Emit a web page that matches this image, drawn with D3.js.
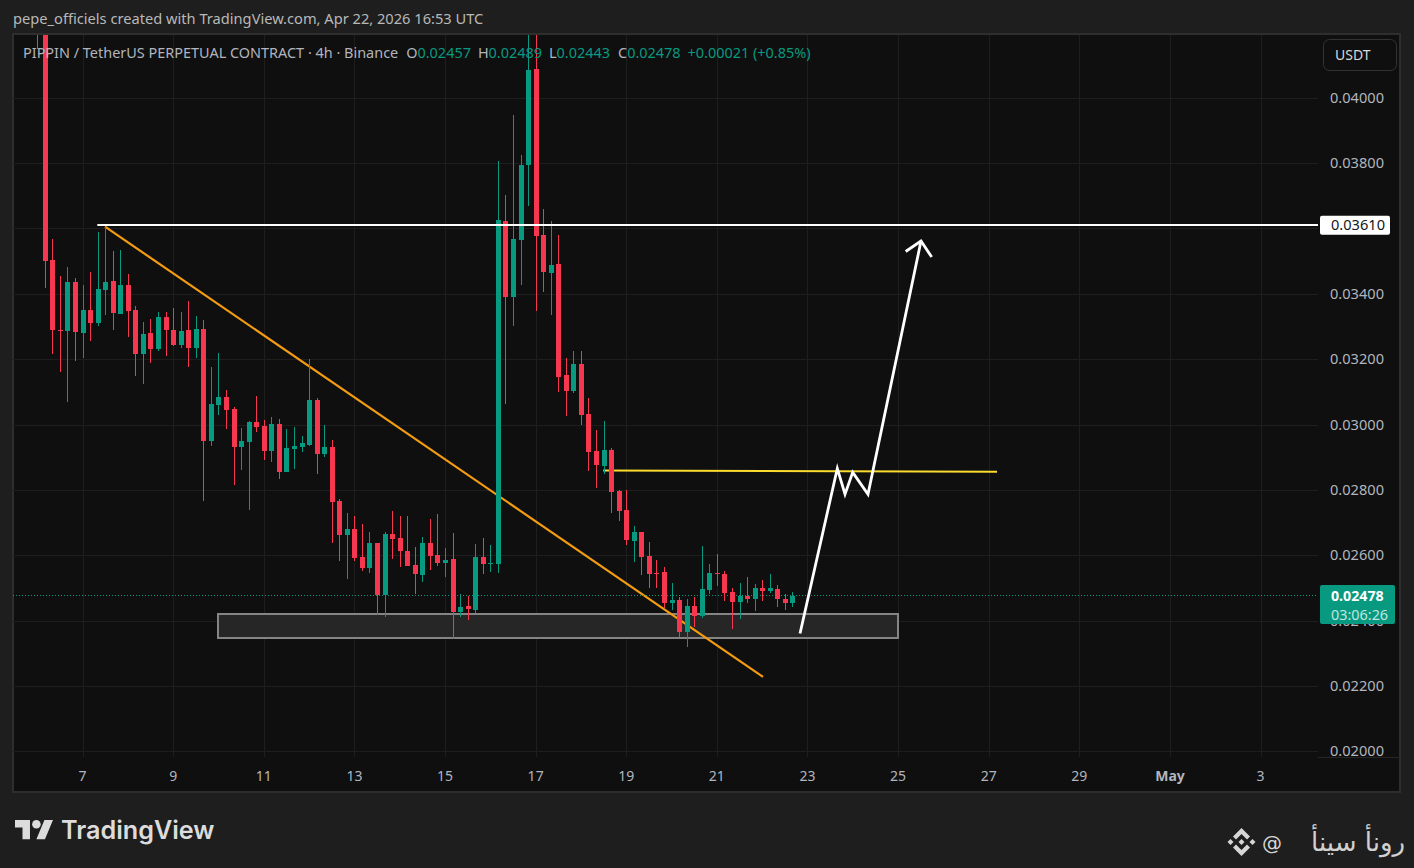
<!DOCTYPE html>
<html>
<head>
<meta charset="utf-8">
<script src="https://cdn.jsdelivr.net/npm/d3@7"></script>
<style>
    html, body { margin: 0; padding: 0; background: #1e1e1e; overflow: hidden; }
    svg { display: block; font-family: "Noto Sans", sans-serif; }
    .domain { display: none; }
</style>
</head>
<body>
<div id="chart"></div>
<script>
// prices are written in 1/100000 USDT, 4h bars, the last bar opens Apr 22 16:00
const opens = [
    4330, 4240, 3505, 3291, 3287, 3438, 3284, 3353, 3312, 3414,
    3441, 3339, 3429, 3352, 3217, 3281, 3233, 3330, 3291, 3245,
    3291, 3236, 3294, 2951, 3062, 3086, 3049, 2932, 2948, 3010,
    2997, 2920, 3004, 2856, 2926, 2932, 2938, 3077, 2911, 2932,
    2767, 2664, 2682, 2596, 2562, 2639, 2479, 2667, 2654, 2615,
    2571, 2540, 2639, 2603, 2577, 2590, 2427, 2446, 2434, 2596,
    2574, 2574, 3624, 3391, 3566, 3795, 4089, 3582, 3466, 3493,
    3153, 3104, 3187, 3034, 2920, 2874, 2923, 2798, 2740, 2645,
    2673, 2599, 2547, 2550, 2455, 2464, 2366, 2446, 2415, 2495,
    2547, 2543, 2489, 2458, 2476, 2467, 2501, 2492, 2498, 2467, 2457
]
const closes = [
    4200, 3503, 3291, 3287, 3438, 3284, 3353, 3312, 3417, 3438,
    3342, 3429, 3349, 3217, 3278, 3233, 3330, 3291, 3245, 3287,
    3236, 3294, 2951, 3065, 3086, 3046, 2932, 2951, 3010, 2994,
    2920, 3004, 2856, 2929, 2935, 2944, 3077, 2911, 2932, 2764,
    2664, 2682, 2593, 2562, 2639, 2479, 2667, 2651, 2615, 2568,
    2543, 2639, 2599, 2577, 2587, 2427, 2443, 2437, 2596, 2574,
    2577, 3627, 3391, 3569, 3795, 4086, 3579, 3469, 3490, 3147,
    3104, 3187, 3031, 2917, 2877, 2923, 2795, 2737, 2648, 2673,
    2596, 2543, 2543, 2455, 2464, 2366, 2446, 2415, 2498, 2547,
    2543, 2485, 2458, 2476, 2467, 2501, 2492, 2501, 2467, 2455, 2478
]
const highs = [
    4350, 4300, 3569, 3456, 3484, 3450, 3429, 3469, 3591, 3606,
    3533, 3536, 3463, 3364, 3315, 3324, 3345, 3345, 3358, 3345,
    3379, 3333, 3321, 3178, 3220, 3107, 3055, 2990, 3013, 3089,
    3016, 3025, 3019, 2987, 2994, 2966, 3202, 3083, 3000, 2954,
    2774, 2731, 2722, 2697, 2673, 2639, 2673, 2737, 2722, 2722,
    2627, 2657, 2712, 2728, 2624, 2670, 2482, 2476, 2636, 2654,
    2633, 3809, 3704, 3949, 3827, 4300, 4250, 3661, 3624, 3582,
    3205, 3226, 3226, 3083, 2984, 3013, 2929, 2801, 2801, 2691,
    2673, 2642, 2587, 2565, 2516, 2473, 2467, 2473, 2630, 2574,
    2606, 2553, 2501, 2516, 2534, 2513, 2525, 2543, 2510, 2482, 2489
]
const lows = [
    4150, 3418, 3217, 3162, 3069, 3196, 3205, 3257, 3303, 3336,
    3291, 3339, 3269, 3150, 3126, 3190, 3226, 3211, 3242, 3236,
    3178, 3205, 2767, 2935, 3031, 2987, 2816, 2862, 2740, 2978,
    2893, 2886, 2835, 2856, 2865, 2917, 2935, 2850, 2902, 2639,
    2584, 2528, 2584, 2553, 2547, 2418, 2412, 2590, 2565, 2568,
    2482, 2519, 2556, 2568, 2534, 2345, 2412, 2403, 2424, 2543,
    2550, 2547, 3065, 3303, 3429, 3670, 3349, 3408, 3336, 3101,
    3027, 3098, 3000, 2859, 2807, 2850, 2731, 2706, 2633, 2581,
    2540, 2501, 2501, 2440, 2434, 2351, 2321, 2382, 2409, 2482,
    2507, 2461, 2376, 2406, 2455, 2431, 2461, 2485, 2443, 2434, 2443
]

const priceTicks = [0.04, 0.038, 0.036, 0.034, 0.032, 0.03, 0.028, 0.026, 0.024, 0.022, 0.02]
const dayTicks = [7, 9, 11, 13, 15, 17, 19, 21, 23, 25, 27, 29, 31, 33]
const dayLabels = ["7", "9", "11", "13", "15", "17", "19", "21", "23", "25", "27", "29", "May", "3"]

// drawings, [day of April, price]
const resistanceLine = [[7.315, 3610], [36, 3610]]
const trendLine = [[7.485, 3607], [22.007, 2229]]
const yellowLine = [[18.482, 2861], [27.171, 2857]]
const projection = [[22.824, 2362], [23.647, 2867], [23.817, 2788], [23.987, 2855], [24.324, 2788], [25.494, 3563]]
const arrowHead = [[25.156, 3531], [25.494, 3563], [25.73, 3514]]
const zoneBox = [[9.979, 2422], [24.997, 2348]]

const lastPrice = 0.02478
const levelLabel = "0.03610"
const countdown = "03:06:26"

const legendParts = [
    ["PIPPIN / TetherUS PERPETUAL CONTRACT · 4h · Binance", "#b2b5be", 0],
    ["O", "#b2b5be", 8],
    ["0.02457", "#089981", 0],
    ["H", "#b2b5be", 7],
    ["0.02489", "#089981", 0],
    ["L", "#b2b5be", 7],
    ["0.02443", "#089981", 0],
    ["C", "#b2b5be", 8],
    ["0.02478", "#089981", 0],
    ["+0.00021 (+0.85%)", "#089981", 7]
]

const w = 1414
const h = 868
const paneLeft = 13
const paneRight = 1318
const paneTop = 35
const paneBottom = 757
const axisRight = 1400
const frameBottom = 792
const green = "#089981"
const red = "#f7374f"

const xScale = d3.scaleLinear().domain([7, 33]).range([83.03, 1261.1])
const yScale = d3.scaleLinear().domain([0.02, 0.04]).range([751.7, 98.3])

const barDay = (i) => 22 + 16 / 24 - (100 - i) / 6
const toPrice = (v) => v / 100000
const px = (d) => xScale(d[0])
const py = (d) => yScale(toPrice(d[1]))

const svg = d3.select("#chart").append("svg")
    .attr("width", w)
    .attr("height", h)

svg.append("defs").append("clipPath").attr("id", "pane")
    .append("rect")
    .attr("x", paneLeft)
    .attr("y", paneTop)
    .attr("width", paneRight - paneLeft)
    .attr("height", paneBottom - paneTop)

// chart frame
svg.append("rect")
    .attr("x", paneLeft)
    .attr("y", 34)
    .attr("width", axisRight - paneLeft)
    .attr("height", frameBottom - 34)
    .attr("fill", "#0f0f0f")
    .attr("stroke", "#2e2e2e")
    .attr("stroke-width", 2)

svg.append("text")
    .attr("x", 13)
    .attr("y", 24)
    .attr("fill", "#b8b8b8")
    .attr("font-size", 14.65)
    .text("pepe_officiels created with TradingView.com, Apr 22, 2026 16:53 UTC")

// grid
const grid = svg.append("g").attr("shape-rendering", "crispEdges").attr("stroke", "#1e1e1e")
grid.selectAll(".vgrid")
    .data(dayTicks)
    .enter()
    .append("line")
    .attr("class", "vgrid")
    .attr("x1", (d) => Math.floor(xScale(d)) + 0.5)
    .attr("x2", (d) => Math.floor(xScale(d)) + 0.5)
    .attr("y1", paneTop)
    .attr("y2", paneBottom)
grid.selectAll(".hgrid")
    .data(priceTicks)
    .enter()
    .append("line")
    .attr("class", "hgrid")
    .attr("x1", paneLeft)
    .attr("x2", paneRight)
    .attr("y1", (d) => Math.floor(yScale(d)) + 0.5)
    .attr("y2", (d) => Math.floor(yScale(d)) + 0.5)
svg.append("line")
    .attr("x1", paneRight)
    .attr("x2", axisRight)
    .attr("y1", paneBottom + 0.5)
    .attr("y2", paneBottom + 0.5)
    .attr("stroke", "#262626")

const pane = svg.append("g").attr("clip-path", "url(#pane)")

// box and lines that sit under the candles
pane.append("rect")
    .attr("x", xScale(zoneBox[0][0]))
    .attr("y", py(zoneBox[0]))
    .attr("width", xScale(zoneBox[1][0]) - xScale(zoneBox[0][0]))
    .attr("height", py(zoneBox[1]) - py(zoneBox[0]))
    .attr("fill", "#262626")
    .attr("stroke", "#858585")
    .attr("stroke-width", 2)
    .attr("shape-rendering", "crispEdges")

const line = d3.line().x(px).y(py)

pane.append("path")
    .attr("d", line(trendLine))
    .attr("fill", "none")
    .attr("stroke", "#f39c12")
    .attr("stroke-width", 2.2)

pane.append("path")
    .attr("d", line(yellowLine))
    .attr("fill", "none")
    .attr("stroke", "#fbdc2e")
    .attr("stroke-width", 2)

// last price dots
pane.append("line")
    .attr("x1", paneLeft)
    .attr("x2", paneRight)
    .attr("y1", Math.floor(yScale(lastPrice)) + 0.5)
    .attr("y2", Math.floor(yScale(lastPrice)) + 0.5)
    .attr("stroke", green)
    .attr("stroke-dasharray", "1 2")

// candles
const candles = pane.selectAll(".candle")
    .data(opens)
    .enter()
    .append("g")
    .attr("class", "candle")
    .attr("fill", (d, i) => closes[i] >= opens[i] ? green : red)
    .attr("stroke", (d, i) => closes[i] >= opens[i] ? green : red)
    .attr("shape-rendering", "crispEdges")

candles.append("line")
    .attr("x1", (d, i) => Math.floor(xScale(barDay(i))) + 0.5)
    .attr("x2", (d, i) => Math.floor(xScale(barDay(i))) + 0.5)
    .attr("y1", (d, i) => yScale(toPrice(highs[i])))
    .attr("y2", (d, i) => yScale(toPrice(lows[i])))

candles.append("rect")
    .attr("stroke", "none")
    .attr("x", (d, i) => Math.floor(xScale(barDay(i))) - 2)
    .attr("width", 5)
    .attr("y", (d, i) => Math.round(yScale(toPrice(Math.max(opens[i], closes[i])))))
    .attr("height", (d, i) => Math.max(1, Math.round(yScale(toPrice(Math.min(opens[i], closes[i]))) - yScale(toPrice(Math.max(opens[i], closes[i]))))))

// white drawings over the candles
const levelY = py(resistanceLine[0])
pane.append("line")
    .attr("x1", px(resistanceLine[0]))
    .attr("x2", paneRight)
    .attr("y1", Math.floor(levelY))
    .attr("y2", Math.floor(levelY))
    .attr("stroke", "#ffffff")
    .attr("stroke-width", 2)

const drawings = pane.append("g")
    .attr("fill", "none")
    .attr("stroke", "#ffffff")
    .attr("stroke-width", 2.8)
drawings.append("path").attr("d", line(projection))
drawings.append("path").attr("d", line(arrowHead))

// axes
const xAxis = d3.axisBottom(xScale)
    .tickValues(dayTicks)
    .tickSize(0)
    .tickPadding(0)
    .tickFormat((d, i) => dayLabels[i])
const yAxis = d3.axisRight(yScale)
    .tickValues(priceTicks)
    .tickSize(0)
    .tickPadding(0)
    .tickFormat(d3.format(".5f"))

const xAxisG = svg.append("g")
    .attr("transform", "translate(-1,771)")
    .call(xAxis)
xAxisG.selectAll("text")
    .attr("fill", "#b2b5be")
    .attr("font-size", 14)
    .attr("font-family", "Noto Sans")
    .attr("font-weight", (d) => d === 31 ? 700 : 400)

const yAxisG = svg.append("g")
    .attr("transform", "translate(1330,-0.5)")
    .call(yAxis)
yAxisG.selectAll("text")
    .attr("fill", "#b2b5be")
    .attr("font-size", 14.6)
    .attr("font-family", "Noto Sans")

// legend
const legend = svg.append("text")
    .attr("x", 23)
    .attr("y", 58)
    .attr("font-size", 14.45)
legend.selectAll("tspan")
    .data(legendParts)
    .enter()
    .append("tspan")
    .attr("dx", (d) => d[2])
    .attr("fill", (d) => d[1])
    .text((d) => d[0])

// unit button
svg.append("rect")
    .attr("x", 1323.5)
    .attr("y", 39.5)
    .attr("width", 73)
    .attr("height", 31)
    .attr("rx", 6)
    .attr("fill", "#0f0f0f")
    .attr("stroke", "#333333")
svg.append("text")
    .attr("x", 1335)
    .attr("y", 60)
    .attr("fill", "#d8d8d8")
    .attr("font-size", 14)
    .text("USDT")

// price tags
svg.append("rect")
    .attr("x", 1320)
    .attr("y", levelY - 10)
    .attr("width", 70)
    .attr("height", 19)
    .attr("rx", 2)
    .attr("fill", "#ffffff")
svg.append("text")
    .attr("x", 1331)
    .attr("y", levelY + 4.5)
    .attr("fill", "#131722")
    .attr("font-size", 14.6)
    .text(levelLabel)

const lastY = yScale(lastPrice)
svg.append("rect")
    .attr("x", 1320)
    .attr("y", lastY - 10.5)
    .attr("width", 75)
    .attr("height", 39)
    .attr("rx", 2)
    .attr("fill", green)
svg.append("text")
    .attr("x", 1331)
    .attr("y", lastY + 5)
    .attr("fill", "#ffffff")
    .attr("font-size", 14.2)
    .attr("font-weight", 700)
    .text(d3.format(".5f")(lastPrice))
svg.append("text")
    .attr("x", 1331)
    .attr("y", lastY + 24.5)
    .attr("fill", "#bfe6df")
    .attr("font-size", 14.4)
    .text(countdown)

// footer logo
const logo = svg.append("g")
    .attr("transform", "translate(15,815.7) scale(1.07)")
    .attr("fill", "#dcdcdc")
logo.append("path").attr("d", "M14 22H7V11H0V4h14v18zM28 22h-8l7.5-18h8L28 22z")
logo.append("circle").attr("cx", 20).attr("cy", 8).attr("r", 4)

svg.append("text")
    .attr("x", 61)
    .attr("y", 839)
    .attr("fill", "#dcdcdc")
    .attr("font-family", "Inter")
    .attr("font-weight", 600)
    .attr("font-size", 25.2)
    .text("TradingView")

// footer signature
const badge = svg.append("g")
    .attr("transform", "translate(1241.5,842)")
    .attr("fill", "#d6d6d6")
badge.selectAll("path")
    .data([
        "M0,-14L8.5,-5.5L5.5,-2.5L0,-8L-5.5,-2.5L-8.5,-5.5Z",
        "M0,14L8.5,5.5L5.5,2.5L0,8L-5.5,2.5L-8.5,5.5Z",
        "M-14,0L-11,-3L-8,0L-11,3Z",
        "M14,0L11,-3L8,0L11,3Z",
        "M0,-3L3,0L0,3L-3,0Z"
    ])
    .enter()
    .append("path")
    .attr("d", (d) => d)

svg.append("text")
    .attr("x", 1405)
    .attr("y", 851)
    .attr("direction", "rtl")
    .attr("fill", "#d0d0d0")
    .attr("font-family", "DejaVu Sans")
    .attr("font-size", 26)
    .attr("letter-spacing", 2.5)
    .text("رونأ سينأ")

svg.append("text")
    .attr("x", 1262)
    .attr("y", 850)
    .attr("fill", "#d6d6d6")
    .attr("font-family", "DejaVu Sans")
    .attr("font-size", 20)
    .text("@")
</script>
</body>
</html>
